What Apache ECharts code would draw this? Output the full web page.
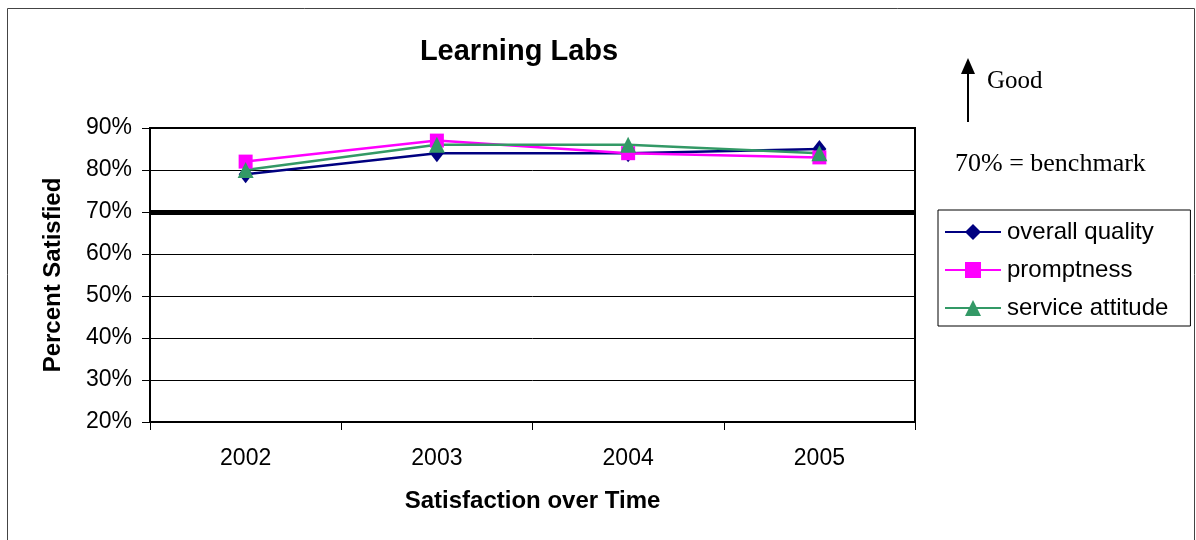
<!DOCTYPE html>
<html><head><meta charset="utf-8">
<script src="https://cdn.jsdelivr.net/npm/echarts@6/dist/echarts.min.js"></script>
<style>html,body{margin:0;padding:0;background:#fff}#c{width:1196px;height:540px}</style>
</head><body><div id="c"></div>
<script>
const categories = ['2002','2003','2004','2005'];
const overallQuality = [79, 84, 84, 85];
const promptness = [82, 87, 84, 83];
const serviceAttitude = [80, 86, 86, 84];
const benchmark = 70;
const yTicks = {min: 20, max: 90, interval: 10};

const chart = echarts.init(document.getElementById('c'));
const font = 'Liberation Sans, Arial, sans-serif';
const serif = '"Liberation Serif", "Times New Roman", serif';
chart.setOption({
  animation: false,
  title: {text: 'Learning Labs', left: 514, top: 32, textAlign: 'center',
    textStyle: {fontFamily: font, fontSize: 29, fontWeight: 'bold', color: '#000'}},
  grid: {left: 150, right: 281, top: 128, bottom: 118, show: true, borderColor: '#000', borderWidth: 2, backgroundColor: 'transparent'},
  legend: {orient: 'vertical', left: 938, top: 210, padding: [10, 22, 6, 6],
    borderColor: '#000', borderWidth: 1, itemGap: 14, itemWidth: 56, itemHeight: 20,
    textStyle: {fontFamily: font, fontSize: 24, color: '#000', padding: [0, 0, 0, 1]},
    data: ['overall quality', 'promptness', 'service attitude']},
  xAxis: {type: 'category', data: categories, boundaryGap: true,
    name: 'Satisfaction over Time', nameLocation: 'middle', nameGap: 67,
    nameTextStyle: {fontFamily: font, fontSize: 24, fontWeight: 'bold', color: '#000'},
    axisLine: {lineStyle: {color: '#000', width: 2}},
    axisTick: {show: true, length: 8, lineStyle: {color: '#000'}},
    axisLabel: {fontFamily: font, fontSize: 23, color: '#000', margin: 25}},
  yAxis: {type: 'value', min: yTicks.min, max: yTicks.max, interval: yTicks.interval,
    name: 'Percent Satisfied', nameLocation: 'middle', nameGap: 85,
    nameTextStyle: {fontFamily: font, fontSize: 24, fontWeight: 'bold', color: '#000'},
    axisLine: {show: true, lineStyle: {color: '#000', width: 2}},
    axisTick: {show: true, length: 8, lineStyle: {color: '#000'}},
    axisLabel: {fontFamily: font, fontSize: 23, color: '#000', margin: 18, formatter: '{value}%'},
    splitLine: {lineStyle: {color: '#000', width: 1}}},
  graphic: [
    {type: 'rect', shape: {x: 7.5, y: 8.5, width: 1187, height: 540}, style: {fill: 'none', stroke: '#444', lineWidth: 1}, z: -1},
    {type: 'line', shape: {x1: 968, y1: 122, x2: 968, y2: 70}, style: {stroke: '#000', lineWidth: 2}},
    {type: 'polygon', shape: {points: [[961, 74], [975, 74], [968, 58]]}, style: {fill: '#000'}},
    {type: 'text', left: 987, top: 69, style: {text: 'Good', font: '25px ' + serif, fill: '#000'}},
    {type: 'text', left: 955, top: 151, style: {text: '70% = benchmark', font: '26px ' + serif, fill: '#000'}}
  ],
  series: [
    {name: 'overall quality', type: 'line', data: overallQuality, symbol: 'diamond', symbolSize: [14, 18],
      lineStyle: {color: '#000080', width: 2.5}, itemStyle: {color: '#000080'},
      markLine: {silent: true, symbol: 'none', label: {show: false},
        lineStyle: {color: '#000', width: 5, type: 'solid'}, data: [{yAxis: benchmark}]}},
    {name: 'promptness', type: 'line', data: promptness, symbol: 'rect', symbolSize: 14,
      lineStyle: {color: '#FF00FF', width: 2.5}, itemStyle: {color: '#FF00FF'}},
    {name: 'service attitude', type: 'line', data: serviceAttitude, symbol: 'triangle', symbolSize: 16,
      lineStyle: {color: '#339966', width: 2.5}, itemStyle: {color: '#339966'}}
  ]
});
</script></body></html>
